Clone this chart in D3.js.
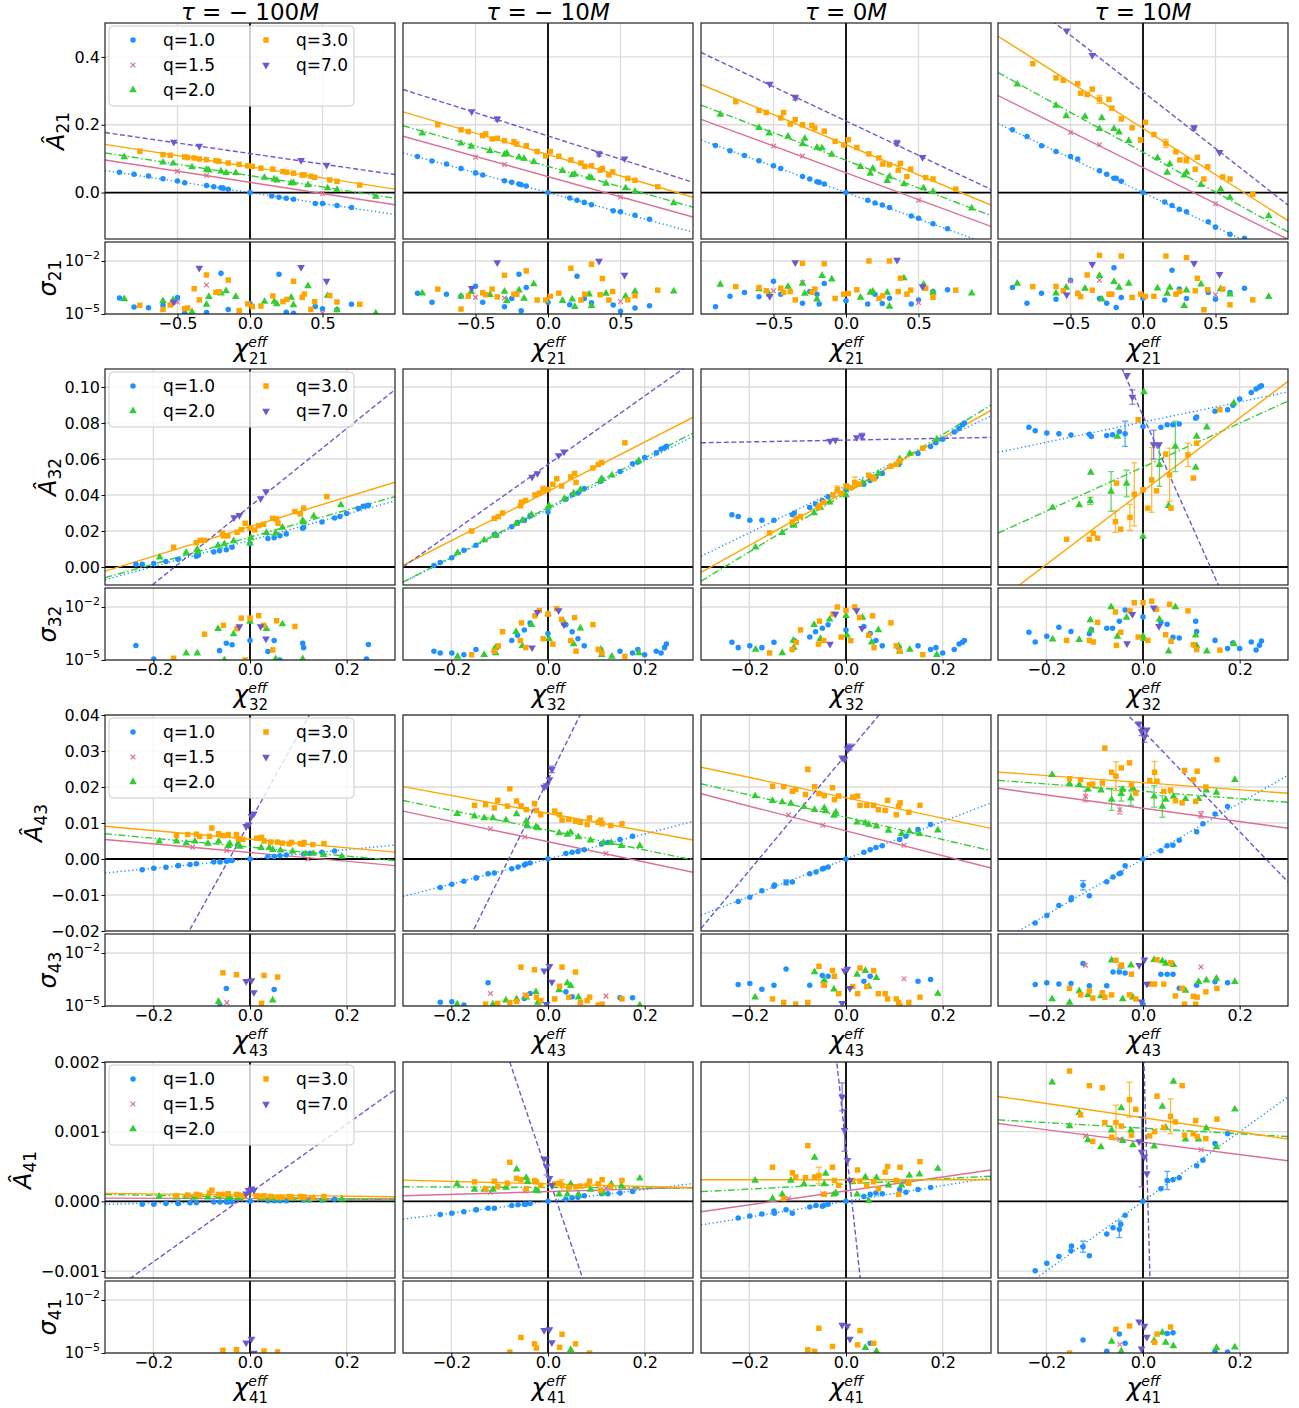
<!DOCTYPE html>
<html><head><meta charset="utf-8">
<script src="https://cdn.jsdelivr.net/npm/d3@7"></script>
<style>body{margin:0;background:#fff}svg{display:block;font-family:"DejaVu Sans",sans-serif}</style>
</head><body><svg id="c" width="1299" height="1408"></svg>
<script>
// ---------------- labels / ticks ----------------
const modes = ['21','32','43','41'];
const taus = ['\u2212100','\u221210','0','10'];
const qKeys = ['q1','q15','q2','q3','q7'];
const qNames = ['q=1.0','q=1.5','q=2.0','q=3.0','q=7.0'];
const xDomains = [[-1,1],[-0.3,0.3],[-0.3,0.3],[-0.3,0.3]];
const yDomains = [[-0.137,0.5],[-0.01,0.11],[-0.02,0.04],[-0.0011,0.002]];
const xTicks = [[-0.5,0,0.5],[-0.2,0,0.2],[-0.2,0,0.2],[-0.2,0,0.2]];
const yTicks = [[0,0.2,0.4],[0,0.02,0.04,0.06,0.08,0.10],[-0.02,-0.01,0,0.01,0.02,0.03,0.04],[-0.001,0,0.001,0.002]];
const yTickDigits = [1,2,2,3];
const sigDomain = [1e-5, Math.pow(10,-0.925)];
const sigTicks = [1e-5, 1e-2];

// ---------------- mode 21 ----------------
const chi21_q1 = [-0.9,-0.8,-0.7,-0.6,-0.5,-0.45,-0.3,-0.25,-0.2,-0.185,-0.15,0,0.15,0.2,0.25,0.3,0.45,0.5,0.6,0.7];
const A21_q1 = [
 [0.060,0.054,0.049,0.041,0.034,0.029,0.021,0.017,0.014,0.013,0.010,0,-0.010,-0.014,-0.017,-0.020,-0.032,-0.032,-0.038,-0.044],
 [0.106,0.093,0.084,0.071,0.058,0.052,0.035,0.030,0.025,0.023,0.019,0,-0.016,-0.023,-0.029,-0.036,-0.054,-0.057,-0.067,-0.079],
 [0.139,0.123,0.109,0.094,0.079,0.071,0.047,0.040,0.032,0.030,0.025,0,-0.023,-0.031,-0.037,-0.044,-0.069,-0.076,-0.092,-0.107],
 [0.185,0.165,0.138,0.121,0.106,0.099,0.064,0.054,0.042,0.042,0.033,0,-0.028,-0.038,-0.049,-0.057,-0.086,-0.102,-0.123,-0.135]];
const S21_q1 = [
 [-4.09,-4.6,-4.64,-4.51,-4.06,-4.96,-4.92,-5.2,-2.70,-5.2,-4.74,-4.40,-5.2,-2.75,-4.9,-4.96,-4.58,-4.7,-4.74,-4.45],
 [-3.82,-4.33,-3.88,-4.0,-3.43,-4.33,-4.59,-4.12,-2.75,-4.81,-3.5,-4.33,-4.48,-2.86,-4.12,-4.36,-4.49,-4.85,-4.66,-4.53],
 [-4.59,-4.0,-3.78,-4.02,-3.15,-3.88,-4.39,-3.73,-3.88,-4.44,-3.27,-4.25,-4.44,-3.88,-4.41,-4.11,-4.44,-4.21,-3.73,-3.63],
 [-3.5,-4.39,-3.82,-4.16,-3.09,-3.82,-4.12,-4.39,-2.38,-4.63,-4.06,-4.11,-4.21,-2.53,-3.59,-4.12,-3.78,-4.16,-3.78,-3.54]];
const fit21_q1 = [[0,-0.065],[0,-0.117],[0,-0.155],[0,-0.203]];

const chi21_q15 = [-0.5,-0.3,0.5];
const A21_q15 = [[0.063,0.050,-0.003],[0.104,0.083,-0.013],[0.137,0.108,-0.023],[0.177,0.141,-0.033]];
const S21_q15 = [[-4.32,-3.36,-4.96],[-4.06,-4.1,-4.29],[-3.69,-3.22,-4.35],[-3.13,-3.09,-3.91]];
const fit21_q15 = [[0.030,-0.066],[0.047,-0.119],[0.058,-0.158],[0.074,-0.212]];

const chi21_q2 = [-0.867,-0.6,-0.53,-0.4,-0.3,-0.284,-0.2,-0.165,-0.098,0.1,0.167,0.185,0.284,0.3,0.4,0.535,0.6,0.867];
const A21_q2 = [
 [0.105,0.089,0.086,0.075,0.068,0.066,0.063,0.058,0.058,0.044,0.039,0.036,0.028,0.028,0.022,0.013,0.008,-0.012],
 [0.175,0.145,0.136,0.123,0.112,0.116,0.104,0.100,0.091,0.064,0.052,0.054,0.045,0.043,0.027,0.013,0.003,-0.031],
 [0.230,0.191,0.175,0.165,0.143,0.159,0.133,0.131,0.112,0.076,0.056,0.071,0.035,0.047,0.025,0.013,0.003,-0.046],
 [0.319,0.257,0.226,0.224,0.188,0.220,0.188,0.178,0.153,0.102,0.059,0.084,0.051,0.060,0.023,0.010,-0.015,-0.069]];
const S21_q2 = [
 [-4.15,-4.26,-4.2,-4.89,-4.47,-4.02,-3.83,-3.70,-4.02,-4.3,-4.3,-4.43,-4.06,-4.49,-3.42,-3.96,-4.77,-4.96],
 [-3.82,-4.0,-3.74,-3.91,-3.73,-4.25,-3.65,-4.12,-3.3,-4.25,-4.16,-4.59,-3.88,-4.53,-3.84,-3.99,-3.73,-3.71],
 [-3.33,-3.59,-3.88,-3.45,-3.27,-3.84,-4.16,-2.84,-3.03,-4.06,-3.78,-3.73,-3.78,-4.57,-2.97,-3.33,-3.78,-3.82],
 [-3.27,-3.82,-3.5,-3.56,-2.84,-4.16,-3.18,-3.5,-3.27,-3.54,-3.84,-3.5,-4.53,-3.65,-3.31,-3.59,-3.88,-4.02]];
const fit21_q2 = [[0.050,-0.067],[0.077,-0.120],[0.095,-0.163],[0.119,-0.235]];

const chi21_q3 = [-0.76,-0.6,-0.55,-0.45,-0.43,-0.385,-0.35,-0.3,-0.235,-0.215,-0.15,-0.075,-0.016,0.016,0.075,0.158,0.227,0.254,0.3,0.36,0.375,0.42,0.446,0.55,0.6,0.757];
const A21_q3 = [
 [0.122,0.112,0.110,0.105,0.103,0.102,0.099,0.097,0.094,0.092,0.087,0.083,0.079,0.077,0.072,0.069,0.062,0.060,0.057,0.052,0.052,0.048,0.045,0.037,0.033,0.022],
 [0.200,0.185,0.180,0.168,0.173,0.158,0.160,0.153,0.150,0.143,0.138,0.121,0.108,0.121,0.107,0.096,0.087,0.077,0.079,0.066,0.071,0.052,0.061,0.042,0.036,0.017],
 [0.268,0.242,0.236,0.220,0.236,0.202,0.215,0.200,0.198,0.190,0.181,0.151,0.140,0.156,0.133,0.114,0.102,0.084,0.082,0.066,0.086,0.047,0.069,0.044,0.040,0.010],
 [0.380,0.338,0.331,0.321,0.293,0.289,0.305,0.275,0.275,0.249,0.217,0.191,0.155,0.207,0.171,0.145,0.120,0.096,0.096,0.069,0.104,0.040,0.076,0.046,0.040,-0.005]];
const S21_q3 = [
 [-4.51,-4.74,-4.49,-4.7,-4.66,-3.57,-4.2,-2.79,-3.77,-3.75,-3.08,-4.81,-4.43,-4.58,-4.55,-3.98,-4.3,-4.17,-3.15,-4.06,-3.87,-4.74,-4.3,-3.96,-4.32,-4.45],
 [-3.59,-4.72,-3.99,-3.8,-3.91,-3.59,-4.03,-2.81,-3.88,-3.88,-2.56,-4.21,-4.21,-4.0,-3.82,-2.41,-4.21,-3.88,-2.19,-3.91,-2.99,-4.21,-3.73,-4.2,-3.97,-3.65],
 [-3.45,-3.5,-3.69,-3.54,-3.78,-3.73,-4.2,-2.13,-3.78,-3.59,-2.15,-4.12,-3.88,-3.84,-3.63,-2.0,-4.12,-3.97,-2.0,-3.73,-2.97,-3.88,-3.65,-3.54,-4.06,-3.65],
 [-3.45,-3.44,-3.69,-3.84,-4.02,-2.79,-3.65,-1.68,-3.88,-3.88,-1.72,-4.06,-3.88,-4.0,-4.0,-1.72,-3.88,-3.73,-1.81,-3.69,-2.98,-4.76,-3.63,-3.59,-4.48,-4.2]];
const fit21_q3 = [[0.076,-0.066],[0.112,-0.126],[0.141,-0.178],[0.189,-0.272]];

const chi21_q7 = [-0.526,-0.35,0.352,0.528];
const A21_q7 = [[0.149,0.137,0.095,0.081],[0.239,0.217,0.114,0.100],[0.320,0.280,0.146,0.104],[0.477,0.405,0.191,0.119]];
const S21_q7 = [[-4.32,-2.40,-2.36,-3.13],[-3.54,-2.08,-2.0,-2.79],[-4.0,-2.09,-1.94,-3.44],[-3.91,-2.19,-2.13,-2.75]];
const fit21_q7 = [[0.115,-0.062],[0.167,-0.137],[0.211,-0.202],[0.297,-0.334]];

// error bars: [tau index, q key, point index, half-length]
const errA21 = [[1,'q7',1,0.006],[1,'q7',2,0.007],[2,'q7',1,0.007],[2,'q7',2,0.008],[3,'q3',7,0.012],[3,'q3',15,0.012],[3,'q3',18,0.009],[3,'q3',12,0.006],[3,'q7',2,0.006]];

// ---------------- mode 32 ----------------
const chi32_q1 = [-0.236,-0.223,-0.199,-0.174,-0.149,-0.111,-0.107,-0.075,-0.063,-0.049,-0.037,0,0.037,0.050,0.062,0.075,0.109,0.111,0.149,0.175,0.186,0.2,0.224,0.234,0.241,0.245];
const A32_q1 = [
 [0.0015,0.0015,0.002,0.003,0.0043,0.006,0.0065,0.0083,0.009,0.0096,0.011,0.013,0.0158,0.0163,0.0174,0.0184,0.0215,0.022,0.025,0.0272,0.0281,0.0297,0.0325,0.0338,0.034,0.0343],
 [0.0008,0.0025,0.0052,0.0093,0.0121,0.0181,0.0176,0.0224,0.0247,0.0259,0.0284,0.0305,0.0377,0.0402,0.0411,0.0436,0.0476,0.0488,0.0531,0.0574,0.0583,0.0608,0.0634,0.0656,0.0662,0.0671],
 [0.029,0.028,0.026,0.026,0.026,0.029,0.030,0.033,0.035,0.037,0.039,0.043,0.046,0.048,0.050,0.052,0.057,0.058,0.063,0.067,0.069,0.071,0.075,0.077,0.079,0.080],
 [0.0776,0.0757,0.0744,0.074,0.0733,0.0738,0.0725,0.0731,0.0735,0.0751,0.074,0.0781,0.0776,0.079,0.079,0.0794,0.0827,0.0833,0.0865,0.0874,0.0898,0.0933,0.097,0.0989,0.1,0.1007]];
const S32_q1 = [
 [-4.18,-5.5,-4.94,-5.5,-5.5,-5.5,-5.5,-5.5,-4.47,-4.05,-4.14,-3.90,-4.52,-3.9,-5.0,-5.5,-4.05,-4.30,-5.5,-5.5,-5.5,-5.5,-5.5,-5.5,-4.94,-4.12],
 [-4.5,-4.6,-4.6,-4.7,-4.4,-4.5,-4.3,-3.9,-3.6,-3.3,-2.9,-3.5,-3.0,-3.4,-3.8,-4.2,-4.4,-4.6,-4.5,-4.6,-4.4,-4.7,-4.5,-4.6,-4.3,-4.1],
 [-4.0,-4.3,-4.2,-4.3,-4.0,-4.4,-3.9,-3.7,-3.4,-3.2,-3.0,-3.3,-3.1,-3.5,-3.9,-4.2,-4.3,-4.5,-4.2,-4.4,-4.3,-4.6,-4.4,-4.1,-4.0,-3.9],
 [-3.43,-3.98,-3.65,-3.15,-3.39,-3.52,-3.28,-3.2,-3.2,-2.81,-2.17,-2.56,-2.87,-2.98,-3.72,-3.76,-2.81,-3.39,-3.89,-4.35,-4.04,-4.35,-3.98,-4.44,-4.17,-3.93]];
const fit32_q1 = [[0.0148,0.0729],[0.032,0.135],[0.045,0.13],[0.0805,0.056]];

const chi32_q2 = [-0.187,-0.132,-0.109,-0.108,-0.066,-0.053,-0.034,0,0.002,0.034,0.053,0.067,0.109,0.111,0.132,0.188];
const A32_q2 = [
 [0.0054,0.008,0.0098,0.0085,0.012,0.0128,0.0145,0.0132,0.0163,0.019,0.0187,0.022,0.0258,0.0249,0.0282,0.0345],
 [0.008,0.015,0.018,0.0175,0.024,0.026,0.029,0.033,0.034,0.038,0.041,0.043,0.048,0.049,0.051,0.059],
 [0.011,0.019,0.024,0.023,0.030,0.033,0.036,0.040,0.044,0.047,0.049,0.052,0.058,0.060,0.063,0.071],
 [0.033,0.0345,0.0367,0.0525,0.042,0.0725,0.0464,0.0169,0.0972,0.0568,0.034,0.067,0.0553,0.0725,0.0776,0.0911]];
const S32_q2 = [
 [-5.5,-4.62,-4.62,-5.5,-3.23,-5.0,-3.53,-2.82,-5.5,-3.23,-4.94,-2.97,-4.94,-5.5,-5.5,-5.5],
 [-4.8,-4.7,-4.3,-4.6,-3.4,-4.2,-3.0,-2.4,-3.8,-2.9,-4.1,-3.2,-4.4,-4.7,-4.8,-4.6],
 [-4.4,-4.6,-3.9,-4.3,-3.0,-3.8,-2.7,-2.5,-3.6,-2.6,-4.0,-3.3,-4.2,-4.5,-4.4,-4.7],
 [-3.83,-3.85,-2.74,-3.33,-2.0,-3.67,-2.6,-3.65,-3.8,-2.7,-4.5,-2.0,-3.6,-4.2,-4.5,-4.1]];
const fit32_q2 = [[0.0166,0.075],[0.033,0.138],[0.041,0.163],[0.0555,0.1223]];

const chi32_q3 = [-0.158,-0.111,-0.103,-0.094,-0.057,-0.055,-0.046,-0.027,-0.018,-0.010,0,0.01,0.018,0.028,0.047,0.055,0.058,0.093,0.104,0.111,0.159];
const A32_q3 = [
 [0.011,0.0135,0.0148,0.0148,0.0187,0.0173,0.0173,0.0193,0.0208,0.0243,0.0217,0.0206,0.023,0.0237,0.027,0.0267,0.0243,0.0308,0.0295,0.0327,0.0391],
 [0.020,0.027,0.028,0.030,0.034,0.036,0.037,0.040,0.041,0.043,0.043,0.046,0.049,0.045,0.050,0.052,0.047,0.055,0.057,0.058,0.069],
 [0.019,0.025,0.027,0.028,0.033,0.034,0.036,0.040,0.043,0.041,0.045,0.044,0.047,0.046,0.051,0.050,0.049,0.056,0.057,0.059,0.066],
 [0.0154,0.0154,0.0187,0.016,0.0252,0.0466,0.021,0.0276,0.0404,0.0818,0.0429,0.0327,0.0484,0.0423,0.0627,0.0512,0.0327,0.0623,0.0494,0.0688,0.0874]];
const S32_q3 = [
 [-4.9,-5.5,-5.5,-3.54,-5.5,-3.04,-5.5,-3.23,-2.63,-5.0,-2.63,-5.5,-2.49,-3.04,-4.43,-2.78,-5.5,-3.1,-5.5,-5.5,-5.5],
 [-4.7,-4.5,-4.2,-3.4,-3.9,-2.9,-4.3,-2.5,-2.2,-3.8,-2.4,-4.1,-2.1,-2.7,-3.9,-2.6,-4.5,-3.0,-4.4,-4.6,-4.8],
 [-4.6,-4.4,-4.0,-3.3,-4.1,-2.8,-3.9,-2.4,-2.0,-3.7,-2.2,-3.9,-2.0,-2.6,-3.6,-2.5,-4.3,-2.9,-4.2,-4.5,-4.7],
 [-3.89,-3.89,-3.98,-2.87,-2.28,-4.17,-3.43,-2.22,-1.76,-3.7,-1.76,-3.89,-1.67,-2.13,-3.57,-1.85,-3.94,-2.22,-4.13,-4.41,-4.44]];
const fit32_q3 = [[0.0224,0.0824],[0.042,0.137],[0.042,0.15],[0.0421,0.2036]];

const chi32_q7 = [-0.033,-0.022,0.022,0.033];
const A32_q7 = [[0.0275,0.0288,0.038,0.0419],[0.050,0.052,0.062,0.064],[0.070,0.0705,0.072,0.0728],[0.1065,0.0944,0.068,0.068]];
const S32_q7 = [[-5.5,-3.1,-3.1,-3.8],[-4.3,-2.3,-2.2,-3.0],[-4.1,-2.4,-2.2,-3.2],[-4.07,-2.41,-2.04,-3.09]];
const fit32_q7 = [[0.0337,0.216],[0.057,0.19],[0.0705,0.005],[0.084,-0.603]];

const errA32 = [[3,'q1',10,0.007],[3,'q2',4,0.011],[3,'q2',6,0.0074],[3,'q2',9,0.012],[3,'q2',11,0.014],[3,'q2',2,0.002],
 [3,'q3',4,0.006],[3,'q3',7,0.0072],[3,'q3',8,0.0175],[3,'q3',12,0.018],[3,'q3',15,0.0148],[3,'q3',17,0.0065],
 [3,'q7',1,0.004],[3,'q7',2,0.008],[2,'q3',12,0.003],[2,'q3',8,0.002],[1,'q3',9,0.002],[2,'q7',3,0.0015]];

// ---------------- mode 43 ----------------
const chi43_q1 = [-0.223,-0.199,-0.174,-0.149,-0.148,-0.124,-0.111,-0.075,-0.062,-0.049,-0.046,-0.037,0,0.037,0.05,0.062,0.075,0.111,0.124,0.149,0.175];
const A43_q1 = [
 [-0.0030,-0.0026,-0.0023,-0.0019,-0.0018,-0.0015,-0.0013,-0.0008,-0.0008,-0.0006,-0.0005,-0.0004,0,0.0006,0.0007,0.0009,0.0011,0.0014,0.0016,0.0019,0.0022],
 [-0.0079,-0.0070,-0.0062,-0.0053,-0.0052,-0.0041,-0.0039,-0.0027,-0.0022,-0.0017,-0.0014,-0.0011,0,0.0015,0.0019,0.0021,0.0026,0.0042,0.0046,0.0054,0.0063],
 [-0.0118,-0.0106,-0.0088,-0.0076,-0.0072,-0.0065,-0.0064,-0.0041,-0.0036,-0.0028,-0.0026,-0.0022,0,0.0019,0.0026,0.0032,0.0037,0.0054,0.0063,0.0082,0.0096],
 [-0.0178,-0.0157,-0.0129,-0.0113,-0.0108,-0.0073,-0.0102,-0.0063,-0.005,-0.0041,-0.0039,-0.0019,0,0.0023,0.0037,0.0038,0.0052,0.0076,0.0098,0.0125,0.0146]];
const S43_q1 = [
 [-5.5,-5.5,-5.5,-5.5,-5.5,-5.5,-5.5,-5.5,-5.0,-4.01,-5.5,-5.5,-5.5,-5.5,-4.07,-5.5,-5.5,-5.5,-5.5,-5.5,-5.5],
 [-4.79,-4.76,-4.95,-5.5,-5.5,-3.68,-5.5,-5.5,-5.5,-4.57,-5.5,-4.29,-5.5,-4.2,-4.48,-5.5,-5.5,-5.5,-5.5,-4.53,-4.53],
 [-3.79,-3.73,-4.05,-3.83,-5.5,-2.9,-5.5,-3.83,-5.5,-3.27,-5.5,-3.32,-5.5,-3.6,-3.32,-5.5,-5.5,-5.5,-5.5,-3.6,-3.5],
 [-3.78,-3.69,-3.76,-3.73,-5.5,-2.6,-3.85,-3.85,-3.07,-3.07,-5.5,-3.13,-4.9,-3.2,-3.2,-3.2,-4.0,-3.82,-5.5,-3.63,-3.69]];
const fit43_q1 = [[0,0.0129],[0,0.0348],[0,0.052],[0,0.0776]];

const chi43_q15 = [-0.119,-0.048,0.12];
const A43_q15 = [[0.0033,0.0024,0.0],[0.0084,0.0061,0.0015],[0.0122,0.0094,0.0038],[0.0174,0.0137,0.0123]];
const S43_q15 = [[-5.5,-4.81,-5.5],[-4.29,-4.38,-4.44],[-5.5,-3.77,-3.46],[-2.69,-2.79,-2.79]];
const fit43_q15 = [[0.0018,-0.0121],[0.0048,-0.0283],[0.0078,-0.0344],[0.0141,-0.0185]];

const chi43_q2 = [-0.188,-0.152,-0.132,-0.114,-0.087,-0.065,-0.045,-0.042,-0.025,-0.021,0.023,0.040,0.047,0.063,0.088,0.115,0.131,0.152,0.19];
const A43_q2 = [
 [0.0049,0.0049,0.0044,0.0049,0.0043,0.0049,0.0037,0.0043,0.0043,0.0035,0.0031,0.0031,0.0026,0.0024,0.0021,0.0015,0.0015,0.0012,0.0007],
 [0.0126,0.0119,0.0114,0.0114,0.0108,0.0125,0.0105,0.0091,0.0089,0.0086,0.0072,0.0068,0.0074,0.0061,0.0052,0.0045,0.0045,0.0037,0.0037],
 [0.0175,0.0162,0.0158,0.0154,0.0145,0.0137,0.0142,0.0133,0.0121,0.013,0.0102,0.01,0.0096,0.0091,0.0079,0.007,0.0077,0.007,0.008],
 [0.0234,0.0209,0.0206,0.0194,0.0191,0.0165,0.0181,0.0193,0.0169,0.0197,0.0174,0.0146,0.0165,0.0174,0.0167,0.0167,0.0191,0.0185,0.022]];
const S43_q2 = [
 [-5.5,-5.5,-5.5,-5.5,-5.5,-4.76,-5.5,-5.5,-5.5,-5.5,-5.5,-5.5,-4.67,-5.5,-5.5,-5.5,-5.5,-5.5,-5.5],
 [-4.9,-5.5,-5.5,-4.9,-4.67,-4.6,-4.5,-5.5,-4.2,-4.8,-4.1,-3.7,-3.85,-4.5,-5.5,-5.5,-5.5,-5.5,-4.95],
 [-4.5,-5.5,-5.5,-5.5,-5.5,-3.08,-3.55,-5.5,-4.05,-5.5,-3.22,-3.0,-3.9,-3.4,-5.5,-5.5,-5.5,-5.5,-4.3],
 [-4.6,-4.8,-4.15,-4.37,-4.43,-2.41,-2.75,-4.6,-2.69,-4.5,-2.38,-2.45,-2.6,-2.66,-4.13,-3.63,-3.54,-3.44,-3.63]];
const fit43_q2 = [[0.0033,-0.0124],[0.008,-0.0275],[0.0116,-0.031],[0.0188,-0.0102]];

const chi43_q3 = [-0.152,-0.129,-0.111,-0.104,-0.084,-0.079,-0.065,-0.056,-0.045,-0.028,-0.024,-0.015,0.014,0.024,0.029,0.043,0.057,0.067,0.081,0.086,0.104,0.109,0.112,0.13,0.153];
const A43_q3 = [
 [0.0065,0.0068,0.0069,0.0063,0.0063,0.0086,0.0070,0.0065,0.0068,0.0068,0.0056,0.0054,0.0058,0.0060,0.0050,0.0047,0.0047,0.0044,0.0042,0.0046,0.0043,0.0041,0.0046,0.0040,0.0043],
 [0.0149,0.0151,0.0142,0.0163,0.0147,0.0195,0.0161,0.0147,0.0137,0.0154,0.0135,0.0123,0.0133,0.0123,0.0108,0.011,0.0105,0.0102,0.0096,0.0114,0.0102,0.0108,0.0098,0.0093,0.0098],
 [0.0202,0.0201,0.0188,0.0193,0.0179,0.0249,0.0201,0.0182,0.0176,0.0198,0.0165,0.0175,0.0172,0.0175,0.0149,0.0149,0.0149,0.0137,0.0135,0.0163,0.0123,0.0147,0.0156,0.013,0.0149],
 [0.0223,0.022,0.0206,0.0208,0.0211,0.0308,0.0241,0.023,0.0253,0.0267,0.0206,0.0183,0.0218,0.0241,0.0216,0.0188,0.0191,0.0162,0.0156,0.0246,0.022,0.016,0.0244,0.02,0.0276]];
const S43_q3 = [
 [-5.5,-5.5,-5.5,-5.5,-5.5,-5.5,-5.5,-3.12,-5.5,-3.23,-5.5,-5.5,-5.5,-4.85,-3.27,-5.5,-3.36,-5.5,-5.5,-5.5,-5.5,-5.5,-5.5,-5.5,-5.5],
 [-5.5,-4.9,-5.5,-4.85,-5.5,-4.8,-4.75,-2.8,-4.4,-2.95,-4.5,-4.7,-4.6,-3.88,-2.8,-4.5,-3.08,-4.8,-4.7,-4.5,-4.95,-5.5,-4.9,-5.5,-4.6],
 [-4.6,-4.8,-5.5,-4.9,-5.5,-4.8,-5.5,-2.75,-3.83,-2.99,-3.32,-4.3,-3.9,-4.3,-2.85,-3.9,-3.0,-4.3,-4.3,-4.6,-4.6,-4.8,-5.0,-4.8,-4.5],
 [-4.0,-4.37,-4.15,-4.55,-4.25,-4.5,-4.37,-2.41,-2.69,-4.37,-3.2,-4.6,-3.76,-3.76,-2.38,-3.76,-2.56,-4.43,-4.0,-4.9,-4.45,-4.9,-4.5,-4.2,-4.0]];
const fit43_q3 = [[0.0055,-0.012],[0.0127,-0.0247],[0.017,-0.0283],[0.0212,-0.0098]];

const chi43_q7 = [-0.008,-0.003,0.003,0.008];
const A43_q7 = [[0.0091,0.0095,0.0119,0.0126],[0.020,0.0204,0.0221,0.0249],[0.0281,0.0277,0.0306,0.0311],[0.0376,0.0355,0.0339,0.0359]];
const S43_q7 = [[-3.6,-5.5,-3.55,-4.23],[-3.0,-4.9,-2.75,-3.64],[-4.85,-3.0,-2.9,-4.0],[-2.69,-4.76,-2.38,-3.76]];
const fit43_q7 = [[0.0104,0.2413],[0.022,0.2706],[0.029,0.161],[0.0356,-0.14]];

const errA43 = [[3,'q15',0,0.0015],[3,'q15',1,0.0012],[3,'q15',2,0.0009],[3,'q2',6,0.002],[3,'q2',5,0.003],[3,'q2',8,0.002],[3,'q2',10,0.003],[3,'q2',11,0.003],
 [3,'q3',7,0.004],[3,'q3',13,0.003],[3,'q1',5,0.0013],[3,'q7',1,0.0012],[3,'q7',2,0.0015],[2,'q1',5,0.0007],[2,'q7',3,0.0008],[1,'q3',7,0.0006],[1,'q7',3,0.0009],[2,'q3',5,0.0006]];

// ---------------- mode 41 ----------------
const chi41_q1 = [-0.223,-0.199,-0.174,-0.149,-0.148,-0.124,-0.111,-0.075,-0.062,-0.049,-0.046,-0.037,0,0.037,0.05,0.062,0.075,0.111,0.124,0.149,0.175];
const A41_q1 = [
 [-0.00004,-0.00004,-0.00003,-0.00003,-0.00003,-0.00002,-0.00002,-0.00001,-0.00001,-0.00001,-0.00001,-0.00001,0,0.00001,0.00001,0.00001,0.00001,0.00002,0.00002,0.00002,0.00003],
 [-0.00019,-0.00017,-0.00015,-0.00012,-0.00012,-0.0001,-0.0001,-0.00006,-0.00005,-0.00004,-0.00004,-0.00003,0,0.00003,0.00005,0.00006,0.00008,0.00011,0.00011,0.00012,0.00014],
 [-0.00024,-0.00021,-0.00018,-0.00014,-0.00017,-0.00012,-0.00017,-0.00008,-0.00006,-0.00007,-0.00006,-0.00004,0,0.00007,0.0001,0.00012,0.00011,0.00017,0.00013,0.00017,0.0002],
 [-0.000995,-0.00089,-0.00079,-0.00071,-0.00064,-0.00065,-0.00078,-0.00047,-0.00038,-0.0004,-0.00033,-0.0002,0,0.00018,0.0003,0.00031,0.00034,0.00051,0.00059,0.00083,0.00097]];
const S41_q1 = [
 [-5.5,-5.5,-5.5,-5.5,-5.5,-5.5,-5.5,-5.5,-5.5,-5.5,-5.5,-5.5,-5.5,-5.5,-5.5,-5.5,-5.5,-5.5,-5.5,-5.5,-5.5],
 [-5.5,-5.5,-5.5,-5.5,-5.5,-5.5,-5.5,-5.5,-5.5,-5.5,-5.5,-5.5,-5.5,-5.5,-5.5,-5.5,-5.5,-5.5,-5.5,-5.5,-5.5],
 [-5.5,-5.5,-5.5,-5.5,-5.5,-5.5,-5.5,-5.5,-5.5,-5.5,-5.5,-5.5,-5.5,-5.5,-4.45,-5.5,-5.5,-5.5,-5.5,-5.5,-5.5],
 [-5.5,-5.5,-5.5,-5.5,-5.5,-4.26,-5.5,-4.9,-5.5,-3.93,-5.5,-4.45,-5.5,-5.5,-3.9,-3.85,-5.5,-5.5,-5.5,-4.9,-4.95]];
const fit41_q1 = [[0,0.00014],[0,0.00085],[0,0.00113],[0,0.005]];

const chi41_q15 = [-0.119,-0.048,0.12];
const A41_q15 = [[0.00005,0.00005,0.00004],[0.00013,0.00015,0.00019],[0.00004,0.00011,0.00027],[0.00094,0.00089,0.00074]];
const S41_q15 = [[-5.5,-5.5,-5.5],[-5.5,-5.5,-5.5],[-5.5,-5.5,-5.5],[-5.5,-4.52,-5.5]];
const fit41_q15 = [[0.00004,-0.00002],[0.00014,0.0002],[0.00015,0.001],[0.00085,-0.00089]];

const chi41_q2 = [-0.188,-0.152,-0.132,-0.114,-0.087,-0.065,-0.045,-0.042,-0.025,-0.021,0.023,0.040,0.047,0.063,0.088,0.115,0.131,0.152,0.19];
const A41_q2 = [
 [0.00007,0.00006,0.00007,0.00006,0.00006,0.00007,0.00005,0.00006,0.00005,0.00005,0.00005,0.00004,0.00004,0.00004,0.00004,0.00003,0.00004,0.00003,0.00003],
 [0.00025,0.00017,0.00017,0.00017,0.0002,0.00046,0.00034,0.00028,0.00016,0.00015,0.0001,0.0001,0.00025,0.0001,0.00017,0.00012,0.00025,0.00022,0.00033],
 [0.0003,0.00004,0.0001,0.0003,0.00025,0.00063,0.00025,0.0004,0.0001,0.00012,0.0001,0.00035,0.00001,0.00034,0.00023,0.00023,0.00037,0.00039,0.00047],
 [0.00171,0.00108,0.00127,0.00088,0.00078,0.00102,0.00134,0.00087,0.00102,0.00081,0.00079,0.00136,0.00106,0.00172,0.00089,0.00089,0.00105,0.00078,0.00132]];
const S41_q2 = [
 [-5.5,-5.5,-5.5,-5.5,-5.5,-5.5,-5.5,-5.5,-5.5,-5.5,-5.5,-5.5,-5.5,-5.5,-5.5,-5.5,-5.5,-5.5,-5.5],
 [-5.5,-5.5,-5.5,-5.5,-5.5,-5.5,-5.5,-5.5,-5.5,-5.5,-5.5,-5.5,-4.82,-5.5,-5.5,-5.5,-5.5,-5.5,-5.5],
 [-5.5,-5.5,-5.5,-5.5,-5.5,-5.5,-5.5,-5.5,-5.5,-5.5,-5.5,-4.7,-5.5,-4.9,-5.5,-5.5,-5.5,-5.5,-5.5],
 [-5.5,-5.5,-5.5,-5.5,-5.5,-4.35,-4.9,-5.5,-5.5,-5.5,-4.3,-3.84,-4.4,-4.6,-5.5,-5.5,-5.5,-4.7,-4.67]];
const fit41_q2 = [[0.00006,-0.00013],[0.0002,-0.00003],[0.00025,0.00037],[0.00105,-0.0004]];

const chi41_q3 = [-0.152,-0.129,-0.111,-0.104,-0.084,-0.079,-0.065,-0.056,-0.045,-0.028,-0.024,-0.015,0.014,0.024,0.029,0.043,0.057,0.067,0.081,0.086,0.104,0.109,0.112,0.13,0.153];
const A41_q3 = [
 [0.00008,0.00009,0.0001,0.00009,0.00012,0.00016,0.0001,0.0001,0.00011,0.0001,0.00009,0.00008,0.00008,0.00007,0.00008,0.00007,0.00006,0.00006,0.00007,0.00006,0.00007,0.00006,0.00006,0.00005,0.00007],
 [0.00028,0.00018,0.00029,0.00021,0.00026,0.00056,0.00033,0.00031,0.00018,0.0003,0.00028,0.00023,0.00025,0.00026,0.00023,0.0002,0.00021,0.00022,0.00023,0.00029,0.00025,0.00016,0.00031,0.00022,0.0003],
 [0.00049,0.00004,0.00041,0.00035,0.00034,0.0008,0.00035,0.00037,0.0001,0.00049,0.0003,0.00023,0.0003,0.00045,0.00029,0.00022,0.00028,0.00018,0.00042,0.0005,0.0003,0.0001,0.00049,0.00026,0.00057],
 [0.00187,0.00124,0.00166,0.00086,0.00163,0.00113,0.00092,0.00113,0.00108,0.00146,0.00095,0.00132,0.00094,0.001,0.00151,0.00106,0.00122,0.00114,0.00166,0.00095,0.00097,0.00116,0.00093,0.0009,0.00118]];
const S41_q3 = [
 [-5.5,-5.5,-5.5,-5.5,-5.5,-5.5,-5.5,-4.85,-5.5,-4.81,-5.5,-5.5,-5.5,-5.5,-4.89,-5.5,-4.94,-5.5,-5.5,-5.5,-5.5,-5.5,-5.5,-5.5,-5.5],
 [-5.5,-5.5,-5.5,-5.5,-5.5,-4.95,-5.5,-4.12,-5.5,-4.48,-4.72,-5.5,-5.5,-4.68,-3.94,-5.5,-4.48,-5.5,-5.5,-5.0,-5.5,-5.5,-5.5,-5.5,-5.5],
 [-5.5,-5.5,-5.5,-5.5,-5.5,-4.82,-4.91,-3.6,-5.5,-4.63,-5.5,-5.5,-5.5,-4.54,-3.73,-5.5,-4.45,-5.5,-5.5,-5.5,-5.5,-5.5,-5.5,-5.5,-5.5],
 [-5.0,-5.5,-5.5,-5.5,-5.5,-5.5,-5.5,-3.66,-5.5,-3.47,-5.5,-5.5,-5.5,-4.4,-3.93,-5.5,-3.53,-5.5,-5.5,-5.5,-5.5,-5.5,-5.5,-5.5,-5.5]];
const fit41_q3 = [[0.00009,-0.00008],[0.00025,-0.00018],[0.00031,0],[0.0012,-0.00102]];

const chi41_q7 = [-0.008,-0.003,0.003,0.008];
const A41_q7 = [[0.00011,0.00016,0.00018,0.00016],[0.00061,0.0005,0.00033,0.00023],[0.0015,0.00102,0.00059,0.0003],[0.00086,0.00071,0.00064,0.0004]];
const S41_q7 = [[-4.42,-5.5,-4.2,-5.0],[-3.71,-5.5,-3.67,-4.41],[-3.42,-5.5,-3.47,-4.21],[-3.23,-4.76,-3.47,-4.1]];
const fit41_q7 = [[0.00012,0.00494],[0.00037,-0.0206],[0.00078,-0.064],[0.0025,-0.25]];

const errA41 = [[3,'q1',5,0.00008],[3,'q1',9,0.00012],[3,'q1',14,0.00013],[3,'q3',7,0.00025],[3,'q3',9,0.00025],[3,'q3',16,0.00025],
 [3,'q7',1,0.0005],[2,'q7',0,0.0002],[2,'q7',1,0.0003],[2,'q3',7,0.00012],[1,'q7',1,0.00012],[1,'q3',14,0.00008]];

// ---------------- assemble lookup from the named arrays ----------------
const DATA = {
 '21': {chi:{q1:chi21_q1,q15:chi21_q15,q2:chi21_q2,q3:chi21_q3,q7:chi21_q7}, A:{q1:A21_q1,q15:A21_q15,q2:A21_q2,q3:A21_q3,q7:A21_q7},
        S:{q1:S21_q1,q15:S21_q15,q2:S21_q2,q3:S21_q3,q7:S21_q7}, fit:{q1:fit21_q1,q15:fit21_q15,q2:fit21_q2,q3:fit21_q3,q7:fit21_q7}, err:errA21},
 '32': {chi:{q1:chi32_q1,q2:chi32_q2,q3:chi32_q3,q7:chi32_q7}, A:{q1:A32_q1,q2:A32_q2,q3:A32_q3,q7:A32_q7},
        S:{q1:S32_q1,q2:S32_q2,q3:S32_q3,q7:S32_q7}, fit:{q1:fit32_q1,q2:fit32_q2,q3:fit32_q3,q7:fit32_q7}, err:errA32},
 '43': {chi:{q1:chi43_q1,q15:chi43_q15,q2:chi43_q2,q3:chi43_q3,q7:chi43_q7}, A:{q1:A43_q1,q15:A43_q15,q2:A43_q2,q3:A43_q3,q7:A43_q7},
        S:{q1:S43_q1,q15:S43_q15,q2:S43_q2,q3:S43_q3,q7:S43_q7}, fit:{q1:fit43_q1,q15:fit43_q15,q2:fit43_q2,q3:fit43_q3,q7:fit43_q7}, err:errA43},
 '41': {chi:{q1:chi41_q1,q15:chi41_q15,q2:chi41_q2,q3:chi41_q3,q7:chi41_q7}, A:{q1:A41_q1,q15:A41_q15,q2:A41_q2,q3:A41_q3,q7:A41_q7},
        S:{q1:S41_q1,q15:S41_q15,q2:S41_q2,q3:S41_q3,q7:S41_q7}, fit:{q1:fit41_q1,q15:fit41_q15,q2:fit41_q2,q3:fit41_q3,q7:fit41_q7}, err:errA41}
};

// ---------------- styles ----------------
const qColor = {q1:'#1e90ff', q15:'#db7093', q2:'#32cd32', q3:'#ffa500', q7:'#6a5acd'};
const qDash = {q1:'1.3,2.6', q15:null, q2:'7,2.5,1.5,2.5', q3:null, q7:'5,2.6'};
const qSym = {q1:d3.symbolCircle, q15:'x', q2:d3.symbolTriangle, q3:d3.symbolSquare, q7:'down'};
const qSize = {q1:24, q15:22, q2:26, q3:30, q7:26};

const colX=[105,403,701,998], PW=290;
const rowY=[23,369,715,1062], MH=216, SG=3, SH=72;
const ylabX=[64,56,42,31];

const svg = d3.select('#c');
const defs = svg.append('defs');

function markerPath(q, size){
  if (qSym[q]==='x'){ const r=Math.sqrt(size)/2; return `M${-r},${-r}L${r},${r}M${r},${-r}L${-r},${r}`; }
  if (qSym[q]==='down') return d3.symbol().type(d3.symbolTriangle).size(size)();
  return d3.symbol().type(qSym[q]).size(size)();
}
function drawMarker(g, q, px, py){
  const p = g.append('path').attr('d', markerPath(q, qSize[q]))
    .attr('transform', `translate(${px},${py})` + (qSym[q]==='down' ? ' rotate(180)' : ''));
  if (qSym[q]==='x') p.attr('fill','none').attr('stroke',qColor[q]).attr('stroke-width',1.2);
  else p.attr('fill',qColor[q]);
  return p;
}
function fmt(v, d){ const s = Math.abs(v).toFixed(d); return (v<0 && Number(s)!==0 ? '\u2212' : '') + s; }

modes.forEach((m, r) => {
  const D = DATA[m];
  taus.forEach((tau, c) => {
    const x0 = colX[c], y0 = rowY[r];
    const sTop = y0+MH+SG, sBot = sTop+SH;
    const x = d3.scaleLinear().domain(xDomains[r]).range([x0, x0+PW]);
    const y = d3.scaleLinear().domain(yDomains[r]).range([y0+MH, y0]);
    const sy = d3.scaleLog().domain(sigDomain).range([sBot, sTop]);
    const id = `p${r}${c}`;
    defs.append('clipPath').attr('id', id+'m').append('rect').attr('x',x0).attr('y',y0).attr('width',PW).attr('height',MH);
    defs.append('clipPath').attr('id', id+'s').append('rect').attr('x',x0).attr('y',sTop).attr('width',PW).attr('height',SH);

    // ---- main panel ----
    const gm = svg.append('g');
    gm.append('rect').attr('x',x0).attr('y',y0).attr('width',PW).attr('height',MH).attr('fill','#fff');
    const grid = gm.append('g').attr('stroke','#dcdcdc').attr('stroke-width',1.3);
    xTicks[r].forEach(v=>grid.append('line').attr('x1',x(v)).attr('x2',x(v)).attr('y1',y0).attr('y2',y0+MH));
    yTicks[r].forEach(v=>grid.append('line').attr('x1',x0).attr('x2',x0+PW).attr('y1',y(v)).attr('y2',y(v)));
    gm.append('line').attr('x1',x0).attr('x2',x0+PW).attr('y1',y(0)).attr('y2',y(0)).attr('stroke','#000').attr('stroke-width',1.8);
    gm.append('line').attr('x1',x(0)).attr('x2',x(0)).attr('y1',y0).attr('y2',y0+MH).attr('stroke','#000').attr('stroke-width',1.8);

    const gc = gm.append('g').attr('clip-path', `url(#${id}m)`);
    qKeys.forEach(q=>{
      const f = D.fit[q]; if(!f) return;
      const [b, k] = f[c];
      const line = d3.line().x(d=>x(d)).y(d=>y(b + k*d));
      gc.append('path').attr('d', line(xDomains[r])).attr('fill','none').attr('stroke',qColor[q])
        .attr('stroke-width',1.4).attr('stroke-dasharray', qDash[q]);
    });
    D.err.filter(e=>e[0]===c).forEach(([t,q,i,e])=>{
      const cx = x(D.chi[q][i]), v = D.A[q][c][i];
      const g = gc.append('g').attr('stroke',qColor[q]).attr('stroke-width',1.3).attr('opacity',0.75);
      g.append('line').attr('x1',cx).attr('x2',cx).attr('y1',y(v-e)).attr('y2',y(v+e));
      g.append('line').attr('x1',cx-3).attr('x2',cx+3).attr('y1',y(v-e)).attr('y2',y(v-e));
      g.append('line').attr('x1',cx-3).attr('x2',cx+3).attr('y1',y(v+e)).attr('y2',y(v+e));
    });
    qKeys.forEach(q=>{
      const xs = D.chi[q]; if(!xs) return;
      const vals = D.A[q][c];
      xs.forEach((xv,i)=>{ if (vals[i]===undefined) return; drawMarker(gc, q, x(xv), y(vals[i])); });
    });
    gm.append('rect').attr('x',x0).attr('y',y0).attr('width',PW).attr('height',MH).attr('fill','none').attr('stroke','#222').attr('stroke-width',1.2);

    // ---- sigma panel ----
    const gs = svg.append('g');
    const sgrid = gs.append('g').attr('stroke','#dcdcdc').attr('stroke-width',1.3);
    xTicks[r].forEach(v=>sgrid.append('line').attr('x1',x(v)).attr('x2',x(v)).attr('y1',sTop).attr('y2',sBot));
    sigTicks.forEach(v=>sgrid.append('line').attr('x1',x0).attr('x2',x0+PW).attr('y1',sy(v)).attr('y2',sy(v)));
    gs.append('line').attr('x1',x(0)).attr('x2',x(0)).attr('y1',sTop).attr('y2',sBot).attr('stroke','#000').attr('stroke-width',1.8);
    const gsc = gs.append('g').attr('clip-path', `url(#${id}s)`);
    qKeys.forEach(q=>{
      const xs = D.chi[q]; if(!xs) return;
      const vals = D.S[q][c];
      xs.forEach((xv,i)=>{ if (vals[i]===undefined) return; drawMarker(gsc, q, x(xv), sy(Math.pow(10, vals[i]))); });
    });
    gs.append('rect').attr('x',x0).attr('y',sTop).attr('width',PW).attr('height',SH).attr('fill','none').attr('stroke','#222').attr('stroke-width',1.2);

    // ---- axes ----
    const xa = svg.append('g').attr('transform',`translate(0,${sBot})`)
      .call(d3.axisBottom(x).tickValues(xTicks[r]).tickSize(3.5).tickPadding(0.5).tickFormat(v=>fmt(v,1)));
    xa.select('.domain').remove();
    xa.selectAll('text').attr('font-size',16).attr('font-family','DejaVu Sans').attr('fill','#000');
    if (c===0){
      const ya = svg.append('g').attr('transform',`translate(${x0},0)`)
        .call(d3.axisLeft(y).tickValues(yTicks[r]).tickSize(3.5).tickPadding(1.5).tickFormat(v=>fmt(v, yTickDigits[r])));
      ya.select('.domain').remove();
      ya.selectAll('text').attr('font-size',16).attr('font-family','DejaVu Sans').attr('fill','#000');
      const sa = svg.append('g').attr('transform',`translate(${x0},0)`)
        .call(d3.axisLeft(sy).tickValues(sigTicks).tickSize(3.5).tickPadding(1.5).tickFormat(()=>''));
      sa.select('.domain').remove();
      sa.selectAll('.tick').each(function(v){
        const t = d3.select(this).select('text').attr('fill','#000').attr('font-family','DejaVu Sans').attr('font-size',15);
        t.append('tspan').text('10');
        t.append('tspan').attr('font-size',11).attr('dy',-7).text('\u2212' + Math.round(-Math.log10(v)));
      });
      svg.append('text').attr('transform',`translate(${ylabX[r]},${y0+MH/2}) rotate(-90)`).attr('text-anchor','middle')
        .attr('font-size',24).call(t=>{
          t.append('tspan').attr('font-style','italic').text('\u00C2');
          t.append('tspan').attr('font-size',17).attr('dy',5).text(m);
        });
      svg.append('text').attr('transform',`translate(56,${sTop+SH/2}) rotate(-90)`).attr('text-anchor','middle')
        .attr('font-size',24).call(t=>{
          t.append('tspan').attr('font-style','italic').text('\u03C3');
          t.append('tspan').attr('font-size',17).attr('dy',5).text(m);
        });
    }
    // x label chi^eff_m as one math text
    const cx = x0 + PW/2, by = sBot + 43;
    svg.append('text').attr('x',cx-16.5).attr('y',by).call(t=>{
      t.append('tspan').attr('font-size',25).attr('font-style','italic').text('\u03C7');
      t.append('tspan').attr('font-size',14).attr('font-style','italic').attr('dy',-10.5).text('eff');
      t.append('tspan').attr('font-size',15).attr('x',cx-1).attr('dy',17.5).text(m);
    });
    // titles
    if (r===0){
      svg.append('text').attr('x',cx).attr('y',20).attr('text-anchor','middle').attr('font-size',23).call(t=>{
        t.append('tspan').attr('font-style','italic').text('\u03C4');
        if (tau.startsWith('\u2212')) { t.append('tspan').text(' = \u2212 ' + tau.slice(1)); }
        else t.append('tspan').text(' = ' + tau);
        t.append('tspan').attr('font-style','italic').text('M');
      });
    }
    // legend
    if (c===0){
      const present = qKeys.filter(q=>D.chi[q]);
      const nrow = Math.ceil(present.length/2);
      const lg = svg.append('g');
      lg.append('rect').attr('x',109).attr('y',y0+3).attr('width',245).attr('height',nrow*25+5).attr('rx',4)
        .attr('fill','#fff').attr('fill-opacity',0.8).attr('stroke','#cccccc').attr('stroke-width',1);
      present.forEach((q,i)=>{
        const col = Math.floor(i/nrow), row = i%nrow;
        const ly = y0+3+14+row*25;
        drawMarker(lg, q, 133+col*133, ly);
        lg.append('text').attr('x',163+col*133).attr('y',ly).attr('dy','0.35em').attr('font-size',17).text(qNames[qKeys.indexOf(q)]);
      });
    }
  });
});
</script></body></html>
